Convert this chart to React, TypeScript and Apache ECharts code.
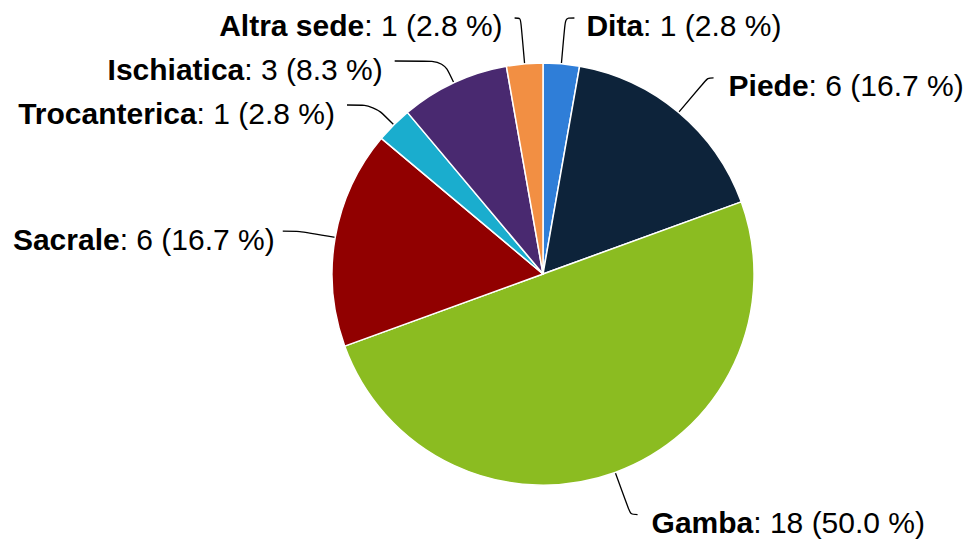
import React, { useEffect, useRef } from 'react';
import * as echarts from 'echarts';

const categories = ['Dita', 'Piede', 'Gamba', 'Sacrale', 'Trocanterica', 'Ischiatica', 'Altra sede'];
const values = [1, 6, 18, 6, 1, 3, 1];
const colors = ['#2f7ed8', '#0d233a', '#8bbc21', '#910000', '#1aadce', '#492970', '#f28f43'];

const lineLength = [46, 45, 45, 36, 28, 24, 46];
const lineLength2 = [9, 6, 7, 17, 27, 49, 6];
const labelGap = [12, 15, 14, 8, 12, 12, 12];

const FONT = '"Liberation Sans", Arial, Helvetica, sans-serif';

export default function App() {
  const ref = useRef<HTMLDivElement>(null);
  useEffect(() => {
    if (!ref.current) return;
    const chart = echarts.init(ref.current, undefined, { renderer: 'svg' });
    const total = values.reduce((a, b) => a + b, 0);
    chart.setOption({
      animation: false,
      backgroundColor: '#ffffff',
      series: [
        {
          type: 'pie',
          center: [543, 274],
          radius: [0, 211],
          startAngle: 90,
          clockwise: true,
          avoidLabelOverlap: false,
          emphasis: { disabled: true },
          itemStyle: { borderColor: '#ffffff', borderWidth: 1.5 },
          label: {
            show: true,
            position: 'outside',
            overflow: 'none',
            padding: [16, 0, 0, 0],
            fontFamily: FONT,
            fontSize: 30,
            color: '#000000',
            formatter: (p: any) =>
              `{b|${p.name}}{n|: ${p.value} (${((p.value / total) * 100).toFixed(1)} %)}`,
            rich: {
              b: { fontFamily: FONT, fontSize: 30, fontWeight: 'bold', color: '#000000' },
              n: { fontFamily: FONT, fontSize: 30, color: '#000000' },
            },
          },
          labelLine: {
            show: true,
            smooth: 0.3,
            lineStyle: { color: '#000000', width: 1.3 },
          },
          data: categories.map((name, i) => ({
            name,
            value: values[i],
            itemStyle: { color: colors[i] },
            label: { distanceToLabelLine: labelGap[i] },
            labelLine: { length: lineLength[i], length2: lineLength2[i] },
          })),
        },
      ],
    });
    return () => chart.dispose();
  }, []);
  return (
    <div
      ref={ref}
      style={{ position: 'absolute', left: 0, top: 0, width: 969, height: 542 }}
    />
  );
}
